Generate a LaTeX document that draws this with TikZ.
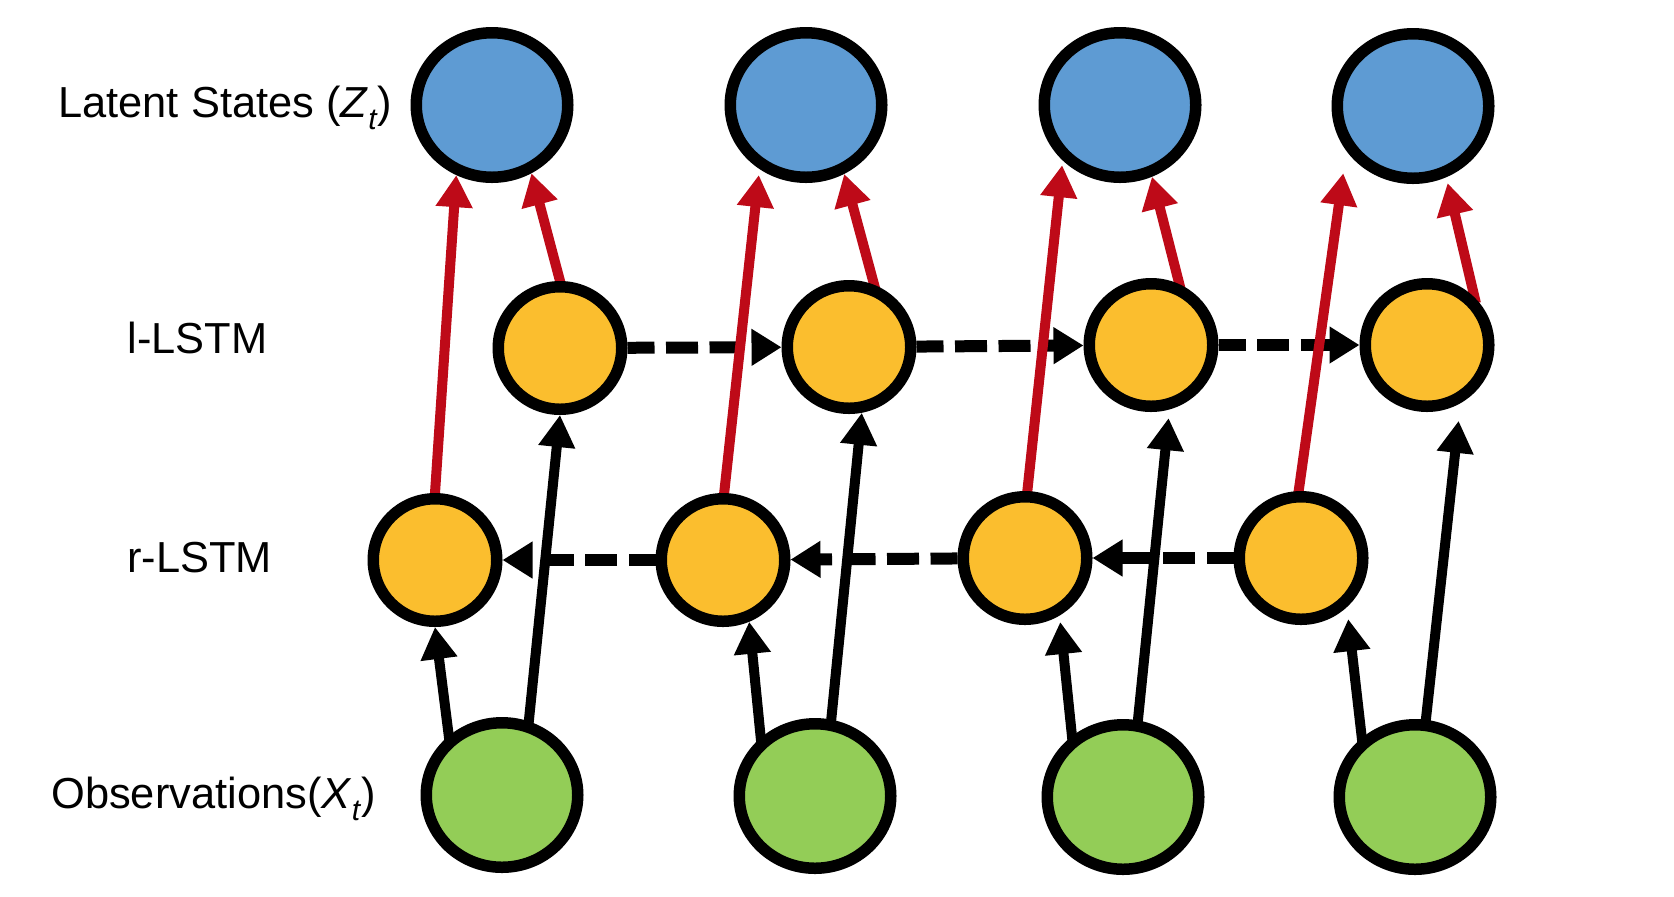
\documentclass[tikz,border=0pt]{standalone}
\usepackage{fontspec}
\setmainfont{Liberation Sans}
\usetikzlibrary{shapes.geometric,arrows.meta}
\definecolor{zblue}{HTML}{5E9BD3}
\definecolor{lyellow}{HTML}{FBBE2E}
\definecolor{xgreen}{HTML}{93CD57}
\definecolor{ared}{HTML}{BE0A18}
\pgfdeclarelayer{bg}
\pgfsetlayers{bg,main}
\newcommand\tsub[1]{\raisebox{-0.28em}{\fontsize{15pt}{15pt}\selectfont\textit{#1}}}
\begin{document}
\begin{tikzpicture}[x=0.5pt,y=-0.5pt,
  bignode/.style={ellipse,draw=black,line width=5.75pt,inner sep=0pt,minimum width=75.75pt,minimum height=72.25pt},
  lat/.style={bignode,fill=zblue},
  obs/.style={bignode,fill=xgreen},
  lstm/.style={ellipse,draw=black,line width=5.75pt,fill=lyellow,inner sep=0pt,minimum width=61.75pt,minimum height=61.25pt},
  lab/.style={anchor=base west,inner sep=0pt,font=\fontsize{21.7pt}{26pt}\selectfont},
  conn/.style={line width=5pt,shorten <=-3pt,-{Triangle[length=16pt,width=17.5pt]}},
  redc/.style={conn,color=ared},
  blk/.style={conn,color=black},
  dsh/.style={line width=6pt,dash pattern=on 16pt off 5.75pt,dash phase=2.5pt,-{Triangle[length=15pt,width=17.5pt]}},
]
\useasboundingbox (0,0) rectangle (1674,896);

\node[lat] (z1) at (492,105) {};
\node[lat] (z2) at (806,105) {};
\node[lat] (z3) at (1120,105) {};
\node[lat] (z4) at (1413,106) {};
\node[lstm] (l1) at (560,348) {};
\node[lstm] (l2) at (849,347) {};
\node[lstm] (l3) at (1151,345) {};
\node[lstm] (l4) at (1427,345) {};
\node[lstm] (r1) at (435,560) {};
\node[lstm] (r2) at (723,560) {};
\node[lstm] (r3) at (1025,558) {};
\node[lstm] (r4) at (1301,558) {};
\node[obs] (x1) at (502,795) {};
\node[obs] (x2) at (815,796) {};
\node[obs] (x3) at (1123,797) {};
\node[obs] (x4) at (1415,797) {};

\node[lab] (tz) at (58,117) {Latent States (\textit{Z}\tsub{t})};
\node[lab] (tl) at (127,353) {l-LSTM};
\node[lab] (tr) at (127,572) {r-LSTM};
\node[lab] (tx) at (51,808) {Observations(\textit{X}\tsub{t})};

\begin{pgfonlayer}{bg}
\fill[white] (0,0) rectangle (1674,896);
\draw[dsh] (l1) -- (l2);
\draw[dsh] (l2) -- (l3);
\draw[dsh] (l3) -- (l4);
\draw[dsh] (r2) -- (r1);
\draw[dsh] (r3) -- (r2);
\draw[dsh] (r4) -- (r3);

\draw[blk] (x1.132) -- (r1.270);
\draw[blk] (x2.133) -- (r2.293);
\draw[blk,shorten >=3.25pt] (x3.130) -- (r3.301);
\draw[blk,shorten >=6pt] (x4.132) -- (r4.313);
\draw[blk] (x1.70) -- (l1.270);
\draw[blk] (x2.78) -- (l2.281);
\draw[blk,shorten >=4.35pt] (x3.79) -- (l3.286);
\draw[blk,shorten >=8.9pt] (x4.82) -- (l4.300);

\draw[redc] (r1.90) -- (z1.243);
\draw[redc,shorten >=3pt] (r2.89) -- (z2.234);
\draw[redc,shorten >=2.4pt] (r3.88) -- (z3.224);
\draw[redc,shorten >=11.25pt] (r4.92) -- (z4.214);
\draw[redc] (l1.90) -- (z1.300);
\draw[redc] (l2.68) -- (z2.299);
\draw[redc] (l3.65) -- (z3.294);
\draw[redc,shorten >=3pt] (l4.45) -- (z4.295);
\end{pgfonlayer}
\end{tikzpicture}
\end{document}
